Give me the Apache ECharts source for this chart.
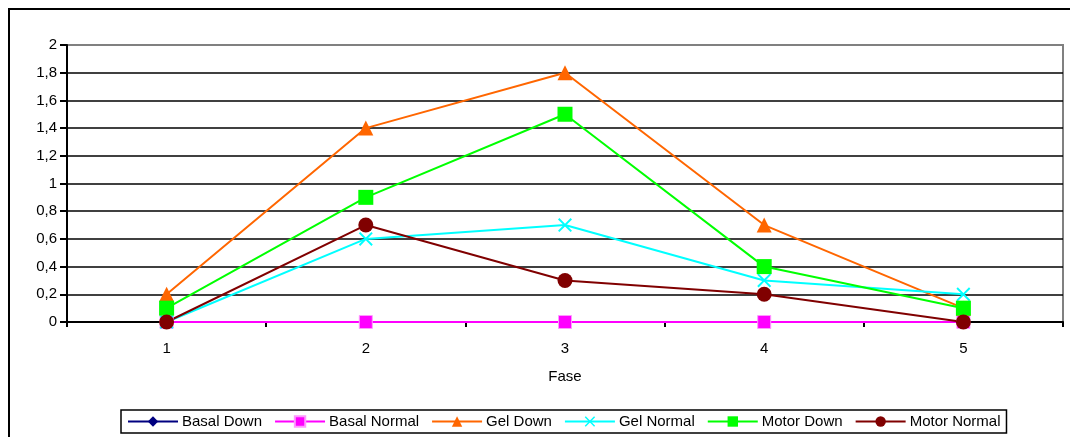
<!DOCTYPE html>
<html>
<head>
<meta charset="utf-8">
<script src="https://cdn.jsdelivr.net/npm/echarts@6/dist/echarts.min.js"></script>
<style>
	html, body { margin: 0; padding: 0; background: #fff; }
	#chart { width: 1070px; height: 437px; }
</style>
</head>
<body>
<div id="chart"></div>
<script>
const categories = ['1', '2', '3', '4', '5'];
const yTicks = [0, 0.2, 0.4, 0.6, 0.8, 1, 1.2, 1.4, 1.6, 1.8, 2];

const basalDown = [0, 0, 0, 0, 0];
const basalNormal = [0, 0, 0, 0, 0];
const gelDown = [0.2, 1.4, 1.8, 0.7, 0.1];
const gelNormal = [0, 0.6, 0.7, 0.3, 0.2];
const motorDown = [0.1, 0.9, 1.5, 0.4, 0.1];
const motorNormal = [0, 0.7, 0.3, 0.2, 0];

const crossPath = 'path://M0,1L1,0L5,4L9,0L10,1L6,5L10,9L9,10L5,6L1,10L0,9L4,5Z';
const font = 'Liberation Sans, Arial, sans-serif';

const mkSeries = (name, data, color, symbol, size, extra) => ({
	name,
	type: 'line',
	data,
	symbol,
	symbolSize: size,
	showAllSymbol: true,
	animation: false,
	lineStyle: { color, width: 2 },
	itemStyle: Object.assign({ color }, extra || {}),
});

const chart = echarts.init(document.getElementById('chart'));

chart.setOption({
	animation: false,
	textStyle: { fontFamily: font },
	graphic: [
		{
			type: 'rect',
			shape: { x: 9, y: 9, width: 1080, height: 450 },
			style: { fill: 'none', stroke: '#000', lineWidth: 2 },
			silent: true,
		},
	],
	grid: {
		left: 67,
		right: 7,
		top: 45,
		bottom: 115,
		show: true,
		borderColor: '#808080',
		borderWidth: 2,
	},
	legend: {
		bottom: 4,
		left: 121,
		itemWidth: 50,
		itemHeight: 13,
		itemGap: 12,
		padding: [4, 6],
		borderColor: '#000',
		borderWidth: 1.5,
		textStyle: { fontSize: 15, color: '#000', fontFamily: font, padding: [0, 0, 0, -1] },
	},
	xAxis: {
		type: 'category',
		data: categories,
		boundaryGap: true,
		name: 'Fase',
		nameLocation: 'middle',
		nameGap: 47,
		nameTextStyle: { fontSize: 15, color: '#000' },
		axisLine: { lineStyle: { color: '#000', width: 2 } },
		axisTick: { show: true, length: 5, inside: false, lineStyle: { color: '#000', width: 2 } },
		axisLabel: { margin: 19, fontSize: 15, color: '#000' },
		splitLine: { show: false },
	},
	yAxis: {
		type: 'value',
		min: 0,
		max: 2,
		interval: 0.2,
		axisLine: { show: true, lineStyle: { color: '#000', width: 2 } },
		axisTick: { show: true, length: 7, lineStyle: { color: '#000', width: 2 } },
		axisLabel: {
			margin: 10,
			fontSize: 15,
			color: '#000',
			formatter: v => String(+v.toFixed(1)).replace('.', ','),
		},
		splitLine: {
			show: true,
			lineStyle: {
				color: yTicks.map((t, i) => (i === yTicks.length - 1 ? '#808080' : '#000')),
				width: 1.5,
			},
		},
	},
	series: [
		mkSeries('Basal Down', basalDown, '#000080', 'diamond', 13),
		mkSeries('Basal Normal', basalNormal, '#FF00FF', 'rect', 13, { borderColor: '#FF99FF', borderWidth: 1 }),
		mkSeries('Gel Down', gelDown, '#FF6600', 'triangle', 15),
		mkSeries('Gel Normal', gelNormal, '#00FFFF', crossPath, 14),
		mkSeries('Motor Down', motorDown, '#00FF00', 'rect', 15),
		mkSeries('Motor Normal', motorNormal, '#800000', 'circle', 15),
	],
});
</script>
</body>
</html>
